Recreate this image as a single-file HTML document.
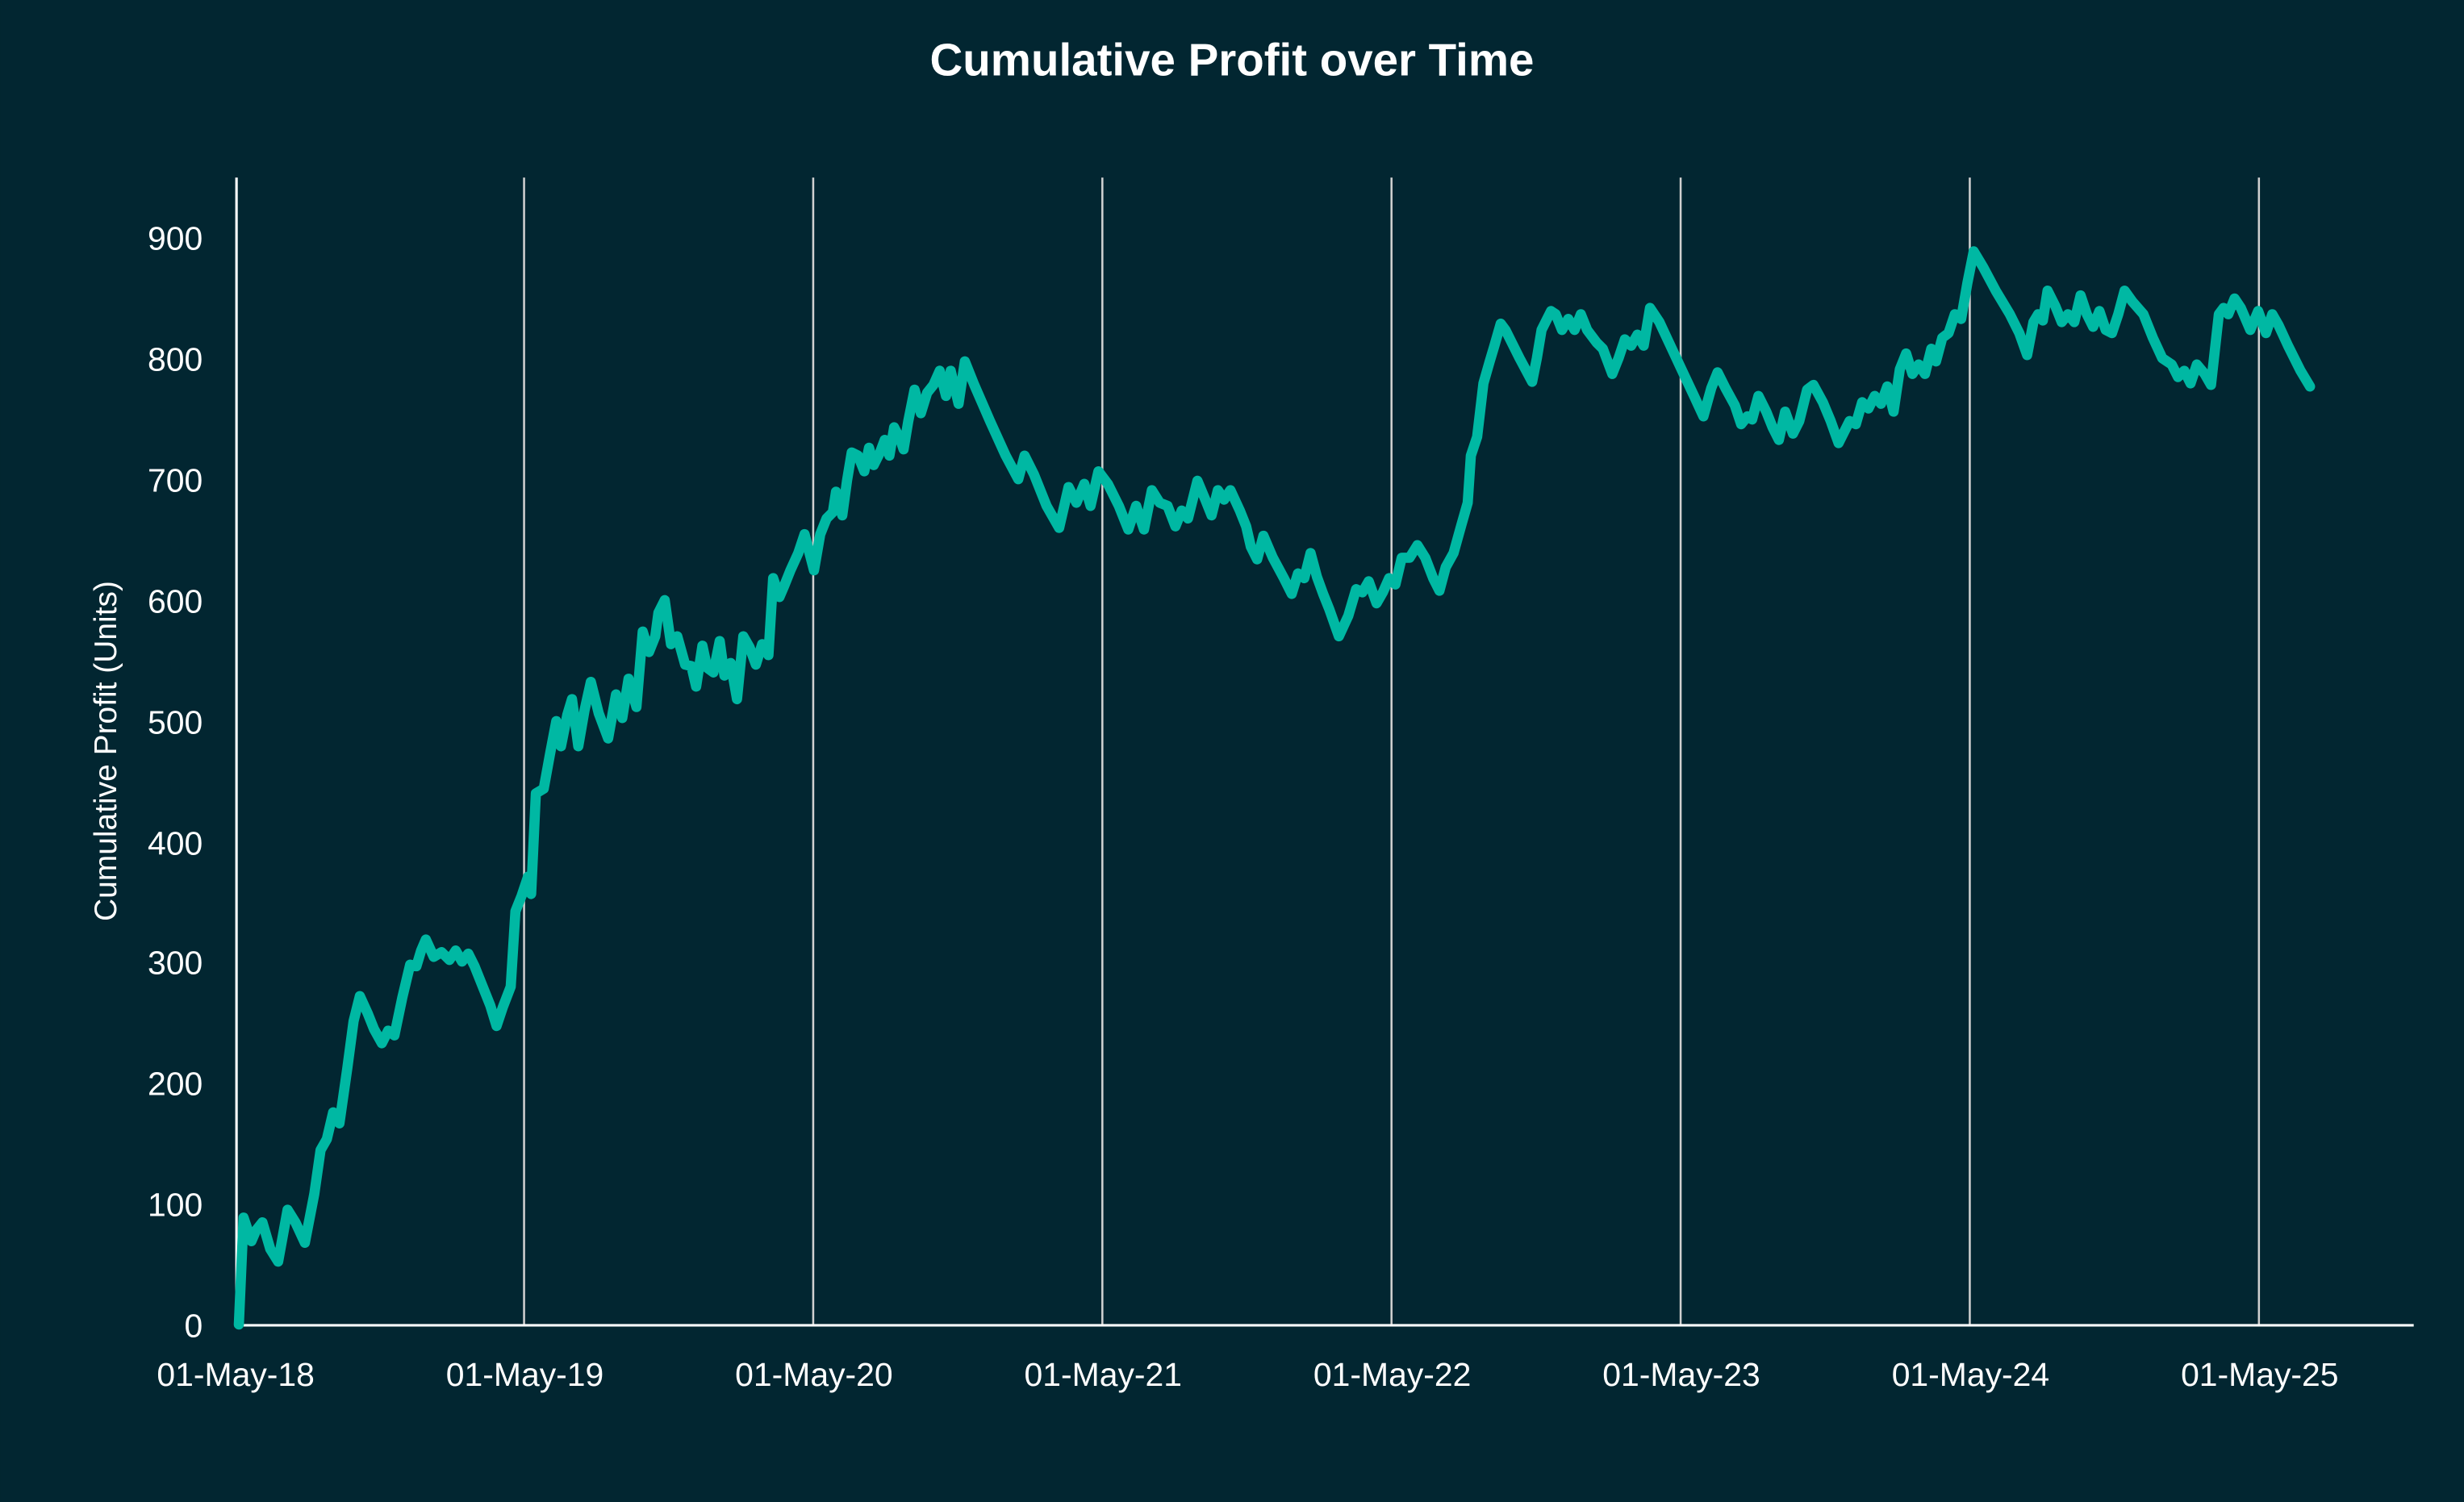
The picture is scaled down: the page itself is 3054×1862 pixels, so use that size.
<!DOCTYPE html>
<html><head><meta charset="utf-8"><style>
html,body{margin:0;padding:0;background:#022631;}
svg{display:block;}
text{font-family:"Liberation Sans",sans-serif;fill:#fff;}
</style></head><body>
<svg width="3054" height="1862" viewBox="0 0 1568 956" xmlns="http://www.w3.org/2000/svg">
<rect width="1568" height="956" fill="#022631"/>
<text x="784" y="48" text-anchor="middle" font-size="29" font-weight="bold">Cumulative Profit over Time</text>
<g stroke="#d0d0d0" stroke-width="1.3">
<line x1="333.5" y1="113" x2="333.5" y2="843"/>
<line x1="517.5" y1="113" x2="517.5" y2="843"/>
<line x1="701.5" y1="113" x2="701.5" y2="843"/>
<line x1="885.5" y1="113" x2="885.5" y2="843"/>
<line x1="1069.5" y1="113" x2="1069.5" y2="843"/>
<line x1="1253.5" y1="113" x2="1253.5" y2="843"/>
<line x1="1437.5" y1="113" x2="1437.5" y2="843"/>
</g>
<g stroke="#fff" stroke-width="1.6">
<line x1="150.5" y1="113" x2="150.5" y2="844"/>
<line x1="150" y1="843.5" x2="1536" y2="843.5"/>
</g>
<g font-size="21" text-anchor="end">
<text x="129" y="851">0</text>
<text x="129" y="774">100</text>
<text x="129" y="697">200</text>
<text x="129" y="620">300</text>
<text x="129" y="544">400</text>
<text x="129" y="467">500</text>
<text x="129" y="390">600</text>
<text x="129" y="313">700</text>
<text x="129" y="236">800</text>
<text x="129" y="159">900</text>
</g>
<g font-size="21" text-anchor="middle">
<text x="150" y="882">01-May-18</text>
<text x="334" y="882">01-May-19</text>
<text x="518" y="882">01-May-20</text>
<text x="702" y="882">01-May-21</text>
<text x="886" y="882">01-May-22</text>
<text x="1070" y="882">01-May-23</text>
<text x="1254" y="882">01-May-24</text>
<text x="1438" y="882">01-May-25</text>
</g>
<text transform="translate(74,478) rotate(-90)" font-size="20" text-anchor="middle">Cumulative Profit (Units)</text>
<polyline fill="none" stroke="#00b8a3" stroke-width="6.5" stroke-linejoin="round" stroke-linecap="round" points="152,843 155,775 160,790 163,783 167,778 172,795 177,803 183,770 188,778 194,791 200,760 204,732 208,725 212,708 216,715 221,680 225,650 229,634 234,645 238,655 243,664 247,656 251,659 256,635 261,614 265,615 268,605 271,598 276,609 281,606 286,611 290,605 294,612 298,607 302,615 306,625 312,640 316,653 320,641 325,628 328,580 332,570 336,558 338,569 341,505 346,502 350,480 354,459 357,475 361,455 364,445 368,475 372,452 376,434 381,454 387,470 392,442 396,457 400,432 405,450 409,402 413,415 417,405 419,390 423,382 427,410 431,405 436,423 440,424 443,437 447,411 450,425 454,428 458,408 461,430 465,422 469,445 473,405 477,412 481,423 485,410 489,417 492,368 496,380 499,373 503,363 508,352 512,340 518,363 522,340 526,330 530,326 532,313 536,328 539,306 542,288 546,290 550,300 553,285 556,296 560,288 563,280 566,290 569,272 573,280 575,286 578,268 582,248 586,263 590,250 594,245 598,236 602,252 605,236 610,257 614,230 620,245 630,268 640,290 648,305 652,290 658,302 666,322 674,336 680,310 685,320 690,308 694,322 699,300 705,308 712,322 718,337 723,322 728,337 733,312 738,320 743,322 748,335 752,325 756,330 762,306 767,318 771,328 775,312 779,318 783,312 789,325 793,335 796,348 800,356 804,341 810,355 817,368 822,378 826,365 830,368 834,352 838,367 842,378 846,388 852,405 858,392 863,375 867,377 871,370 876,384 880,377 884,368 888,372 892,355 897,355 902,347 907,355 912,368 916,376 920,361 925,352 930,334 934,320 936,290 940,278 944,244 948,230 951,220 955,206 958,210 962,218 967,228 975,243 978,228 981,210 987,198 990,200 994,210 998,203 1002,210 1006,200 1010,210 1016,218 1020,222 1026,238 1030,228 1034,216 1038,220 1042,213 1046,220 1050,196 1056,205 1063,220 1070,235 1078,252 1084,265 1089,247 1093,237 1098,247 1104,258 1108,270 1112,265 1115,267 1119,252 1124,262 1128,272 1132,280 1136,262 1141,276 1145,268 1150,248 1154,245 1160,256 1165,268 1170,282 1177,268 1181,270 1185,256 1189,260 1193,252 1197,257 1201,246 1205,262 1209,235 1213,225 1217,238 1221,232 1225,238 1229,222 1232,230 1236,215 1240,212 1244,200 1248,203 1252,180 1256,160 1262,170 1270,185 1279,200 1285,212 1290,226 1294,205 1297,200 1300,204 1303,185 1308,195 1312,205 1316,200 1320,205 1324,188 1328,200 1332,208 1336,198 1340,210 1344,212 1348,200 1352,185 1357,192 1364,200 1370,215 1376,228 1382,232 1386,240 1390,236 1394,244 1398,232 1403,238 1407,245 1412,200 1415,196 1418,200 1422,190 1426,196 1432,210 1437,198 1442,212 1446,200 1450,207 1456,220 1464,236 1470,246"/>
</svg>
</body></html>
